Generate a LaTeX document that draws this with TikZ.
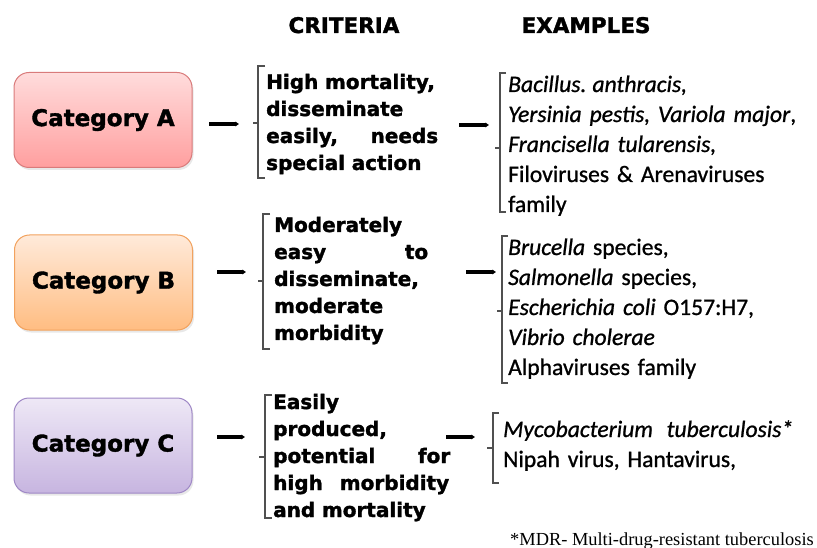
\documentclass[tikz,border=0pt]{standalone}
\usepackage{fontspec}
\setmainfont{Carlito}[FakeBold=0.9]
\newfontfamily\heavyfont{DejaVu Sans}[BoldFeatures={FakeBold=1.6}]
\newfontfamily\notefont{Liberation Serif}
\usetikzlibrary{arrows.meta,shadows}
\definecolor{aTop}{HTML}{FFDCDC}
\definecolor{aBot}{HTML}{FF9F9F}
\definecolor{aLine}{HTML}{D97B7B}
\definecolor{bTop}{HTML}{FFEADA}
\definecolor{bBot}{HTML}{FFBD82}
\definecolor{bLine}{HTML}{F2A25E}
\definecolor{cTop}{HTML}{EEE8F6}
\definecolor{cBot}{HTML}{C7B5E0}
\definecolor{cLine}{HTML}{9F88C6}
\definecolor{brk}{HTML}{505050}
\tikzset{
  catbox/.style={rounded corners=15pt, minimum width=178pt, minimum height=95pt,
    line width=1pt, inner sep=0pt,
    font=\heavyfont\bfseries\fontsize{23}{27}\selectfont,
    drop shadow={opacity=0.18, shadow xshift=1.5pt, shadow yshift=-2.5pt}},
  header/.style={font=\heavyfont\bfseries\fontsize{21.5}{26}\selectfont, inner sep=0pt, anchor=base},
  crit/.style={font=\heavyfont\bfseries\fontsize{20}{27}\selectfont, inner sep=0pt,
    anchor=base west, text width=185pt, align=left},
  expl/.style={font=\fontsize{23.6}{30}\selectfont, inner sep=0pt,
    anchor=base west, text width=310pt, align=left},
  flowarrow/.style={draw=black, line width=3.4pt, -{Latex[length=3.5pt,width=5.5pt]}},
  bracket/.style={draw=brk, line width=1.3pt}
}
\newcommand{\spreadline}[2]{\leavevmode\hbox to #1{#2}}
\begin{document}
\begin{tikzpicture}[x=1pt,y=-1pt]
\useasboundingbox (0,0) rectangle (817,548);

% headers
\node[header] (hcrit) at (344,33) {CRITERIA};
\node[header] (hexam) at (586,33) {EXAMPLES};

% category boxes
\node[catbox, top color=aTop, bottom color=aBot, draw=aLine] (catA) at (103,120) {Category A};
\node[catbox, top color=bTop, bottom color=bBot, draw=bLine] (catB) at (103.5,282.5) {Category B};
\node[catbox, top color=cTop, bottom color=cBot, draw=cLine] (catC) at (103,445.5) {Category C};

% criteria texts
\node[crit] (critA) at (266,89) {High mortality,\\ disseminate\\ \spreadline{172pt}{easily,\hfill needs}\\ special action};
\node[crit] (critB) at (274,232) {Moderately\\ \spreadline{154pt}{easy\hfill to}\\ disseminate,\\ moderate\\ morbidity};
\node[crit] (critC) at (273,409) {Easily\\ produced,\\ \spreadline{177pt}{potential\hfill for}\\ \spreadline{176pt}{high\hfill morbidity}\\ and mortality};

% examples texts
\node[expl] (exA) at (508,92) {\textit{Bacillus.\hspace{6pt}anthracis,}\\ \textit{Yersinia\hspace{8pt}pestis, Variola\hspace{8pt}major},\\ \textit{Francisella tularensis,}\\ Filoviruses \& Arenaviruses\\ family};
\node[expl] (exB) at (508,255) {\textit{Brucella} species,\\ \textit{Salmonella} species,\\ \textit{Escherichia\hspace{8pt}coli} O157:H7,\\ \textit{Vibrio cholerae}\\ Alphaviruses family};
\node[expl] (exC) at (503,437) {\spreadline{290pt}{\textit{Mycobacterium\hfill tuberculosis*}}\\ Nipah virus, Hantavirus,};

% footnote
\node[font=\notefont\fontsize{18.4}{22}\selectfont, inner sep=0pt, anchor=base west] (note) at (510,545) {*MDR- Multi-drug-resistant tuberculosis};

% brackets
\draw[bracket] (265,66) -- (258,66) -- (258,178) -- (265,178) (258,123) -- (253,123);
\draw[bracket] (506,73) -- (500,73) -- (500,212) -- (506,212) (500,148) -- (495,148);
\draw[bracket] (270,214) -- (263,214) -- (263,349) -- (270,349) (263,281) -- (258,281);
\draw[bracket] (508,236) -- (502,236) -- (502,383) -- (508,383) (502,311) -- (497,311);
\draw[bracket] (272,395) -- (265,395) -- (265,518) -- (272,518) (265,457) -- (259,457);
\draw[bracket] (499,413) -- (493,413) -- (493,483) -- (499,483) (493,448) -- (487,448);

% arrow end points
\coordinate (a1s) at (209,124); \coordinate (a1e) at (239,124);
\coordinate (a2s) at (459,125); \coordinate (a2e) at (489,125);
\coordinate (b1s) at (217,272); \coordinate (b1e) at (246,272);
\coordinate (b2s) at (466,272); \coordinate (b2e) at (496,272);
\coordinate (c1s) at (217,437); \coordinate (c1e) at (245,437);
\coordinate (c2s) at (446,437); \coordinate (c2e) at (475,437);
\draw[flowarrow] (a1s) -- (a1e);
\draw[flowarrow] (a2s) -- (a2e);
\draw[flowarrow] (b1s) -- (b1e);
\draw[flowarrow] (b2s) -- (b2e);
\draw[flowarrow] (c1s) -- (c1e);
\draw[flowarrow] (c2s) -- (c2e);
\end{tikzpicture}
\end{document}
